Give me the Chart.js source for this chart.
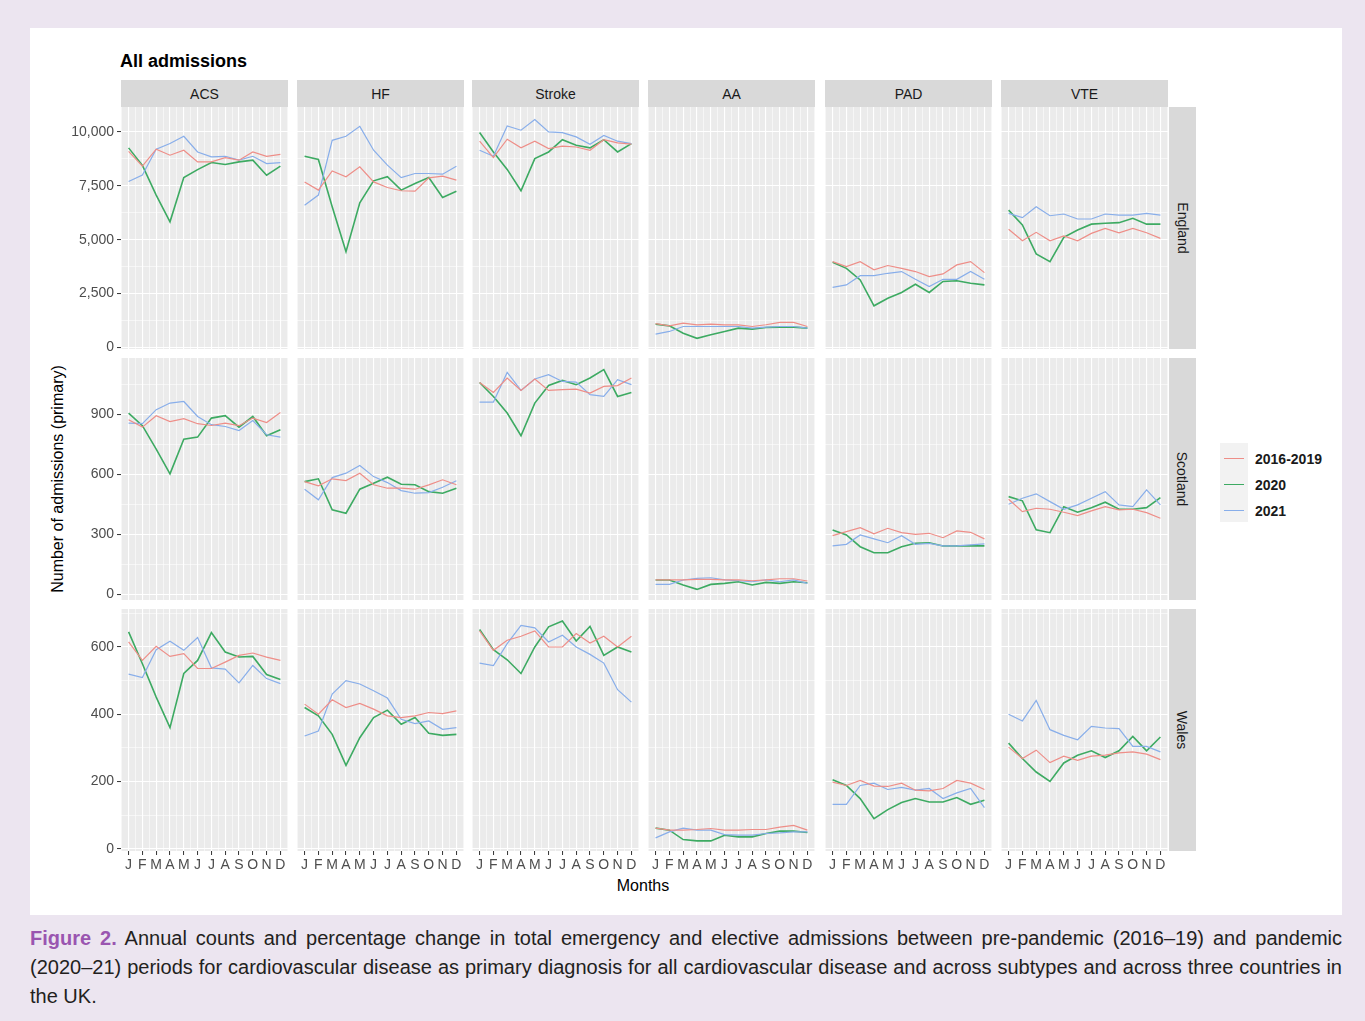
<!DOCTYPE html>
<html lang="en">
  <head>
    <meta charset="UTF-8" />
    <title>All admissions</title>
    <script src="https://cdn.jsdelivr.net/npm/chart.js"></script>
    <style>
      body {
        margin: 0;
        background: #ece5f0;
        font-family: "Liberation Sans", Arial, sans-serif;
      }
      #page {
        position: relative;
        width: 1365px;
        height: 1021px;
        overflow: hidden;
      }
      #card {
        position: absolute;
        left: 30px;
        top: 28px;
        width: 1312px;
        height: 887px;
        background: #fff;
      }
      .abs {
        position: absolute;
      }
      .strip {
        position: absolute;
        background: #d9d9d9;
        color: #1a1a1a;
        font-size: 14px;
        display: flex;
        align-items: center;
        justify-content: center;
      }
      .rowstrip span {
        transform: rotate(90deg);
        white-space: nowrap;
      }
      #legend {
        position: absolute;
        left: 1220px;
        top: 443px;
        width: 28px;
        height: 79px;
        background: #f2f2f2;
      }
      .key {
        position: absolute;
        left: 4px;
        width: 20px;
        height: 0;
      }
      .keylabel {
        position: absolute;
        left: 1255px;
        font-size: 14px;
        font-weight: bold;
        color: #1a1a1a;
        line-height: 16px;
      }
      .caption {
        position: absolute;
        left: 30px;
        width: 1312px;
        font-size: 20px;
        line-height: 24px;
        color: #231f20;
        white-space: nowrap;
        font-family: "Liberation Sans Narrow", "Liberation Sans", Arial, sans-serif;
      }
      .caption span.inner {
        display: inline-block;
        transform-origin: left center;
      }
      .figlabel {
        color: #9a55b0;
        font-weight: bold;
      }
    </style>
  </head>
  <body>
    <div id="page">
      <div id="card"></div>
      <div class="abs" style="left: 120px; top: 51px; font-size: 18px; font-weight: bold; color: #000">
        All admissions
      </div>
      <div
        class="abs"
        style="left: 58px; top: 479px; font-size: 16px; color: #000; white-space: nowrap; transform: translate(-50%, -50%) rotate(-90deg)"
      >
        Number of admissions (primary)
      </div>
      <div
        class="abs"
        style="left: 643px; top: 886px; font-size: 16px; color: #000; transform: translate(-50%, -50%)"
      >
        Months
      </div>
      <div id="legend">
        <div class="key" style="top: 15px; border-top: 1.3px solid #ee8e88"></div>
        <div class="key" style="top: 41px; border-top: 1.5px solid #3daa62"></div>
        <div class="key" style="top: 67px; border-top: 1.3px solid #88aeea"></div>
      </div>
      <div class="keylabel" style="top: 451px">2016-2019</div>
      <div class="keylabel" style="top: 477px">2020</div>
      <div class="keylabel" style="top: 503px">2021</div>

      <div class="caption" style="top: 926px"><span class="inner"><span class="figlabel">Figure 2.</span> Annual counts and percentage change in total emergency and elective admissions between pre-pandemic (2016–19) and pandemic</span></div>
      <div class="caption" style="top: 955px"><span class="inner">(2020–21) periods for cardiovascular disease as primary diagnosis for all cardiovascular disease and across subtypes and across three countries in</span></div>
      <div class="caption" style="top: 984px"><span class="inner">the UK.</span></div>
    </div>

    <script>
      const months = [1, 2, 3, 4, 5, 6, 7, 8, 9, 10, 11, 12];
      const monthLabels = ["J", "F", "M", "A", "M", "J", "J", "A", "S", "O", "N", "D"];
      const diseases = ["ACS", "HF", "Stroke", "AA", "PAD", "VTE"];
      const countries = ["England", "Scotland", "Wales"];
      const seriesNames = ["2016-2019", "2020", "2021"];
      const seriesColors = ["#ee8e88", "#3daa62", "#88aeea"];
      const seriesWidths = [1.2, 1.6, 1.2];

      // England
      const englandPre = {
        ACS: [9100, 8410, 9200, 8920, 9150, 8610, 8610, 8810, 8690, 9070, 8870, 8960],
        HF: [7680, 7300, 8190, 7920, 8380, 7680, 7420, 7270, 7250, 7870, 7950, 7760],
        Stroke: [9570, 8810, 9660, 9260, 9570, 9230, 9340, 9300, 9150, 9640, 9490, 9430],
        AA: [1100, 1000, 1130, 1050, 1080, 1050, 1050, 970, 1050, 1160, 1160, 970],
        PAD: [3980, 3750, 3980, 3600, 3800, 3670, 3520, 3290, 3410, 3830, 3980, 3470],
        VTE: [5480, 4950, 5340, 4950, 5170, 4950, 5290, 5520, 5320, 5520, 5320, 5060],
      };
      const england2020 = {
        ACS: [9260, 8450, 7070, 5830, 7880, 8250, 8580, 8490, 8610, 8690, 7990, 8410],
        HF: [8870, 8720, 6530, 4440, 6710, 7730, 7920, 7300, 7610, 7880, 6960, 7250],
        Stroke: [9970, 9070, 8260, 7270, 8760, 9070, 9640, 9380, 9260, 9640, 9070, 9460],
        AA: [1080, 1000, 660, 420, 590, 740, 895, 850, 925, 940, 940, 895],
        PAD: [3950, 3670, 3130, 1930, 2280, 2550, 2930, 2550, 3060, 3090, 2980, 2900],
        VTE: [6370, 5680, 4340, 3980, 5110, 5450, 5720, 5760, 5790, 5990, 5720, 5720],
      };
      const england2021 = {
        ACS: [7700, 8000, 9200, 9460, 9800, 9070, 8840, 8870, 8690, 8870, 8530, 8580],
        HF: [6600, 7070, 9610, 9800, 10260, 9150, 8460, 7880, 8070, 8070, 8040, 8410],
        Stroke: [9150, 8870, 10280, 10080, 10570, 10000, 9970, 9770, 9430, 9840, 9570, 9460],
        AA: [620, 740, 970, 970, 970, 970, 970, 895, 940, 970, 970, 895],
        PAD: [2790, 2900, 3330, 3330, 3440, 3520, 3160, 2820, 3160, 3160, 3520, 3160],
        VTE: [6220, 6020, 6530, 6110, 6190, 5960, 5960, 6190, 6140, 6140, 6220, 6140],
      };

      // Scotland
      const scotlandPre = {
        ACS: [872, 835, 892, 863, 877, 852, 843, 855, 842, 880, 858, 908],
        HF: [563, 542, 577, 568, 605, 547, 530, 530, 525, 547, 572, 547],
        Stroke: [1058, 1008, 1080, 1018, 1075, 1018, 1022, 1025, 1005, 1038, 1042, 1080],
        AA: [72, 72, 72, 75, 75, 72, 72, 68, 72, 78, 78, 67],
        PAD: [293, 313, 333, 302, 330, 308, 300, 305, 283, 317, 310, 277],
        VTE: [475, 413, 430, 425, 410, 393, 417, 438, 422, 425, 408, 380],
      };
      const scotland2020 = {
        ACS: [905, 842, 725, 602, 775, 785, 880, 892, 835, 888, 792, 822],
        HF: [563, 577, 422, 405, 525, 555, 585, 550, 547, 513, 505, 530],
        Stroke: [1058, 988, 905, 792, 955, 1043, 1068, 1047, 1080, 1122, 988, 1008],
        AA: [72, 72, 47, 25, 50, 55, 63, 47, 60, 55, 63, 58],
        PAD: [322, 297, 238, 208, 208, 238, 255, 258, 242, 242, 242, 242],
        VTE: [488, 467, 322, 308, 438, 410, 433, 460, 425, 425, 433, 483],
      };
      const scotland2021 = {
        ACS: [855, 852, 922, 955, 963, 888, 847, 838, 818, 868, 797, 785],
        HF: [525, 472, 583, 605, 643, 588, 558, 518, 505, 508, 535, 567],
        Stroke: [960, 960, 1108, 1018, 1075, 1097, 1063, 1060, 997, 988, 1072, 1047],
        AA: [50, 50, 72, 80, 83, 72, 68, 63, 72, 63, 72, 55],
        PAD: [242, 250, 297, 277, 258, 293, 250, 255, 242, 242, 247, 252],
        VTE: [450, 480, 502, 463, 425, 447, 480, 513, 447, 438, 522, 447],
      };

      // Wales
      const walesPre = {
        ACS: [615, 560, 602, 572, 580, 536, 536, 555, 575, 582, 570, 560],
        HF: [430, 400, 443, 420, 432, 415, 395, 390, 395, 405, 402, 410],
        Stroke: [648, 590, 620, 632, 648, 600, 600, 640, 612, 632, 600, 632],
        AA: [61, 55, 55, 57, 60, 55, 55, 57, 57, 64, 69, 55],
        PAD: [198, 188, 203, 186, 185, 195, 174, 172, 179, 203, 195, 176],
        VTE: [302, 268, 293, 256, 275, 263, 275, 278, 285, 288, 281, 265],
      };
      const wales2020 = {
        ACS: [645, 550, 451, 360, 521, 560, 643, 585, 570, 572, 518, 503],
        HF: [420, 395, 340, 248, 330, 390, 412, 370, 390, 343, 337, 340],
        Stroke: [652, 592, 562, 521, 600, 660, 677, 618, 661, 575, 600, 585],
        AA: [61, 55, 27, 23, 23, 40, 35, 35, 45, 52, 52, 48],
        PAD: [205, 188, 149, 89, 116, 137, 149, 139, 139, 152, 132, 144],
        VTE: [314, 268, 228, 200, 255, 278, 291, 271, 291, 334, 291, 332],
      };
      const wales2021 = {
        ACS: [519, 509, 592, 617, 590, 628, 538, 534, 493, 545, 506, 491],
        HF: [335, 350, 460, 500, 490, 470, 448, 385, 372, 380, 355, 360],
        Stroke: [552, 545, 610, 664, 657, 615, 635, 600, 578, 552, 473, 436],
        AA: [32, 50, 61, 55, 55, 42, 40, 40, 45, 47, 50, 50],
        PAD: [132, 132, 188, 195, 176, 182, 174, 179, 149, 166, 179, 122],
        VTE: [400, 380, 441, 354, 337, 324, 364, 359, 357, 304, 304, 288],
      };

      const countrySeries = [
        [englandPre, england2020, england2021],
        [scotlandPre, scotland2020, scotland2021],
        [walesPre, wales2020, wales2021],
      ];

      // y axis: major breaks per row and the visible range
      const englandTicks = [0, 2500, 5000, 7500, 10000];
      const scotlandTicks = [0, 300, 600, 900];
      const walesTicks = [0, 200, 400, 600];
      const rowTicks = [englandTicks, scotlandTicks, walesTicks];
      const rowRange = [
        [-74, 11157],
        [-28, 1180],
        [-7, 713],
      ];

      // layout of the panel grid (pixels)
      const colLeft = [121, 297, 472, 648, 825, 1001];
      const rowTop = [107, 358, 609];
      const PANEL_W = 167;
      const PANEL_H = 242;
      const Y_AXIS_W = 60;
      const X_AXIS_H = 24;
      const PAD = 9;
      const FONT = '"Liberation Sans", Arial, sans-serif';

      const page = document.getElementById("page");

      // strips
      diseases.forEach((d, c) => {
        const s = document.createElement("div");
        s.className = "strip";
        s.style.left = colLeft[c] + "px";
        s.style.top = "80px";
        s.style.width = PANEL_W + "px";
        s.style.height = "27px";
        s.textContent = d;
        page.appendChild(s);
      });
      countries.forEach((name, r) => {
        const s = document.createElement("div");
        s.className = "strip rowstrip";
        s.style.left = "1169px";
        s.style.top = rowTop[r] + "px";
        s.style.width = "27px";
        s.style.height = PANEL_H + "px";
        s.innerHTML = "<span>" + name + "</span>";
        page.appendChild(s);
      });

      const panelBg = {
        id: "panelBg",
        beforeDraw(chart) {
          const a = chart.chartArea;
          chart.ctx.save();
          chart.ctx.fillStyle = "#ebebeb";
          chart.ctx.fillRect(a.left, a.top, a.right - a.left, a.bottom - a.top);
          chart.ctx.restore();
        },
      };

      function gridValues(majors, lo, hi) {
        const step = majors[1] - majors[0];
        const vals = [];
        for (let v = majors[0] - step / 2; v <= majors[majors.length - 1] + step; v += step / 2) {
          if (v >= lo && v <= hi) vals.push(v);
        }
        return vals;
      }

      const xGrid = [];
      for (let v = 0.5; v <= 12.5; v += 0.5) xGrid.push(v);

      function makePanel(r, c) {
        const leftCol = c === 0;
        const bottomRow = r === 2;
        const w = PANEL_W + (leftCol ? Y_AXIS_W : 0);
        const h = PANEL_H + PAD + (bottomRow ? X_AXIS_H : PAD);
        const canvas = document.createElement("canvas");
        canvas.width = w;
        canvas.height = h;
        canvas.style.position = "absolute";
        canvas.style.left = colLeft[c] - (leftCol ? Y_AXIS_W : 0) + "px";
        canvas.style.top = rowTop[r] - PAD + "px";
        canvas.style.width = w + "px";
        canvas.style.height = h + "px";
        page.appendChild(canvas);

        const majors = rowTicks[r];
        const [lo, hi] = rowRange[r];
        const yGrid = gridValues(majors, lo, hi);
        const isMajorY = (v) => majors.includes(v);
        const isMajorX = (v) => Number.isInteger(v);

        const datasets = seriesNames.map((name, k) => ({
          label: name,
          data: months.map((m, i) => ({ x: m, y: countrySeries[r][k][diseases[c]][i] })),
          borderColor: seriesColors[k],
          borderWidth: seriesWidths[k],
          pointRadius: 0,
          tension: 0,
          fill: false,
        }));
        // draw 2020 on top like the original
        const ordered = [datasets[0], datasets[2], datasets[1]];

        new Chart(canvas, {
          type: "line",
          data: { datasets: ordered },
          plugins: [panelBg],
          options: {
            responsive: false,
            animation: false,
            events: [],
            devicePixelRatio: 1,
            layout: { padding: { top: PAD, bottom: bottomRow ? 0 : PAD, left: 0, right: 0 } },
            plugins: { legend: { display: false }, tooltip: { enabled: false } },
            scales: {
              x: {
                type: "linear",
                min: 0.45,
                max: 12.55,
                afterBuildTicks: (s) => {
                  s.ticks = xGrid.map((v) => ({ value: v }));
                },
                afterFit: (s) => {
                  s.height = bottomRow ? X_AXIS_H : 0;
                  s.paddingLeft = 0;
                  s.paddingRight = 0;
                },
                border: { display: false },
                grid: {
                  color: "#ffffff",
                  lineWidth: (ctx) => (isMajorX(ctx.tick.value) ? 1.1 : 0.55),
                  drawTicks: bottomRow,
                  tickLength: 4,
                  tickWidth: 1,
                  tickColor: (ctx) => (isMajorX(ctx.tick.value) ? "#333333" : "rgba(0,0,0,0)"),
                },
                ticks: {
                  display: bottomRow,
                  autoSkip: false,
                  maxRotation: 0,
                  padding: 2,
                  color: "#4d4d4d",
                  font: { size: 14, family: FONT },
                  callback: (v) => (isMajorX(v) ? monthLabels[v - 1] : ""),
                },
              },
              y: {
                type: "linear",
                min: lo,
                max: hi,
                afterBuildTicks: (s) => {
                  s.ticks = yGrid.map((v) => ({ value: v }));
                },
                afterFit: (s) => {
                  s.width = leftCol ? Y_AXIS_W : 0;
                  s.paddingTop = 0;
                  s.paddingBottom = 0;
                },
                border: { display: false },
                grid: {
                  color: "#ffffff",
                  lineWidth: (ctx) => (isMajorY(ctx.tick.value) ? 1.1 : 0.55),
                  drawTicks: leftCol,
                  tickLength: 4,
                  tickWidth: 1,
                  tickColor: (ctx) => (isMajorY(ctx.tick.value) ? "#333333" : "rgba(0,0,0,0)"),
                },
                ticks: {
                  display: leftCol,
                  autoSkip: false,
                  padding: 3,
                  color: "#4d4d4d",
                  font: { size: 14, family: FONT },
                  callback: (v) => (isMajorY(v) ? v.toLocaleString("en-US") : ""),
                },
              },
            },
          },
        });
      }

      for (let r = 0; r < countries.length; r++) {
        for (let c = 0; c < diseases.length; c++) {
          makePanel(r, c);
        }
      }

      // fit caption lines to the card width
      const lines = document.querySelectorAll(".caption .inner");
      lines.forEach((el, i) => {
        const target = 1312;
        const wNat = el.getBoundingClientRect().width;
        if (wNat > target) {
          el.style.transform = "scaleX(" + target / wNat + ")";
        } else if (i < lines.length - 1) {
          const spaces = (el.textContent.match(/ /g) || []).length;
          el.style.wordSpacing = (target - wNat) / spaces + "px";
        }
      });
    </script>
  </body>
</html>
